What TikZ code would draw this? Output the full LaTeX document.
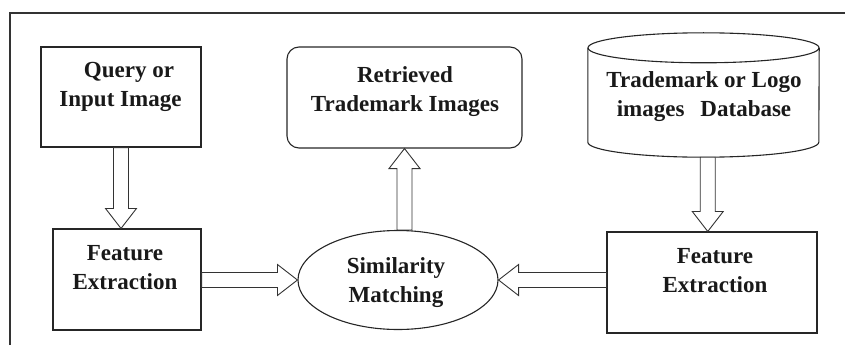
\documentclass[tikz,border=0pt]{standalone}
\usepackage{fontspec}
\setmainfont{Liberation Serif}
\usetikzlibrary{calc,shapes.geometric}

\tikzset{
  frameline/.style={draw=black!80, line width=1.4pt},
  boxline/.style={draw=black!85, line width=1.1pt},
  flowbox/.style={boxline, rectangle, inner sep=0pt, minimum height=101pt},
  txt/.style={font=\bfseries\fontsize{23}{29}\selectfont, align=center,
              anchor=north, inner sep=0pt, text=black!90},
  arrowline/.style={draw=black!80, line width=0.9pt, fill=white, line join=miter},
}

% hollow block arrow from #1 to #2 (tip at #2)
\newcommand\blockarrow[2]{%
  \coordinate (ah) at ($(#2)!20pt!(#1)$);
  \draw[arrowline] ($(#1)!7.5pt!90:(#2)$) -- ($(ah)!7.5pt!90:(#2)$)
    -- ($(ah)!15.5pt!90:(#2)$) -- (#2) -- ($(ah)!15.5pt!-90:(#2)$)
    -- ($(ah)!7.5pt!-90:(#2)$) -- ($(#1)!7.5pt!-90:(#2)$) -- cycle;}

\begin{document}
\begin{tikzpicture}[x=1pt, y=-1pt]
\useasboundingbox (0,0) rectangle (845,345);

% outer frame (top and left edges)
\draw[frameline] (10,345) -- (10,13) -- (845,13);

% blocks
\node[flowbox, minimum width=160pt, minimum height=100pt] (query) at (121,97) {};
\node[flowbox, minimum width=148pt] (featL) at (127,279.5) {};
\node[flowbox, minimum width=210pt] (featR) at (712,282.5) {};
\node[boxline, rectangle, rounded corners=12pt, inner sep=0pt,
      minimum width=235pt, minimum height=101pt] (ret) at (404.5,97.5) {};
\node[boxline, ellipse, inner sep=0pt,
      minimum width=200pt, minimum height=99pt] (sim) at (398,280) {};

% database cylinder
\node[inner sep=0pt, minimum width=231pt, minimum height=124pt] (db) at (703.5,95) {};
\draw[boxline] ($(db.north)+(0,15)$) ellipse [x radius=115.5pt, y radius=15pt];
\draw[boxline] ($(db.north west)+(0,15)$) -- ($(db.south west)+(0,-15)$)
  arc[start angle=180, end angle=360, x radius=115.5pt, y radius=15pt]
  -- ($(db.north east)+(0,15)$);

% labels
\node[txt] (qt) at (120.5,56.7) {\strut\hspace*{17pt}Query or\\Input Image};
\node[txt] (flt) at (125,239.7) {\strut Feature\\Extraction};
\node[txt] (rtt) at (405,61.7) {\strut Retrieved\\Trademark Images};
\node[txt] (smt) at (396,252.7) {\strut Similarity\\Matching};
\node[txt] (dbt) at (704,66.7) {\strut Trademark or Logo\\images\hspace{16pt}Database};
\node[txt] (frt) at (715,242.7) {\strut Feature\\Extraction};

% connectors
\coordinate (a1s) at (query.south);
\coordinate (a1e) at (query.south |- featL.north);
\blockarrow{a1s}{a1e}

\coordinate (a2s) at (featL.east |- sim.west);
\coordinate (a2e) at (sim.west);
\blockarrow{a2s}{a2e}

\coordinate (a3s) at (featR.west |- sim.east);
\coordinate (a3e) at (sim.east);
\blockarrow{a3s}{a3e}

\coordinate (a4s) at (ret.south |- sim.north);
\coordinate (a4e) at (ret.south);
\blockarrow{a4s}{a4e}

\coordinate (dbx) at ($(db.south)!.5!(featR.north)$);
\coordinate (a5s) at (dbx |- db.south);
\coordinate (a5e) at (dbx |- featR.north);
\blockarrow{a5s}{a5e}
\end{tikzpicture}
\end{document}
